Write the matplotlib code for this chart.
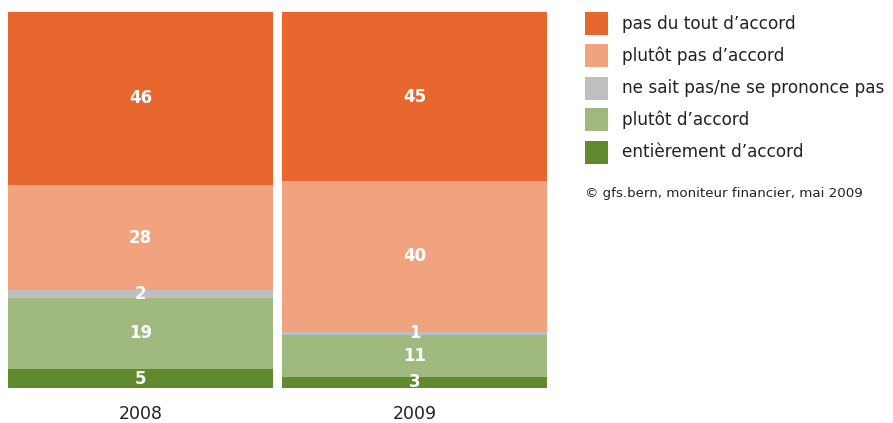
import matplotlib
matplotlib.use('Agg')
from matplotlib import pyplot as plt
from matplotlib.patches import Rectangle
import numpy as np

years = ['2008', '2009']
categories = ['entièrement d\u2019accord', 'plutôt d\u2019accord', 'ne sait pas/ne se prononce pas',
              'plutôt pas d\u2019accord', 'pas du tout d\u2019accord']
values = {
    'entièrement d\u2019accord': [5, 3],
    'plutôt d\u2019accord': [19, 11],
    'ne sait pas/ne se prononce pas': [2, 1],
    'plutôt pas d\u2019accord': [28, 40],
    'pas du tout d\u2019accord': [46, 45],
}
colors = ['#5F8A2E', '#A0B97F', '#BFBFBF', '#F1A380', '#E8672E']
source = '© gfs.bern, moniteur financier, mai 2009'

plt.rcParams['font.family'] = ['DejaVu Sans']

W, H = 893, 423
fig = plt.figure(figsize=(W/100, H/100), dpi=100)
ax = fig.add_axes([8/W, 1-388/H, (547-8)/W, (388-12)/H])

x = np.arange(len(years))
bw = 265/274
bottom = np.zeros(len(years))
for cat, col in zip(categories, colors):
    v = np.array(values[cat], dtype=float)
    ax.bar(x, v, bw, bottom=bottom, color=col, linewidth=0)
    for xi, vi, bi in zip(x, v, bottom):
        ax.text(xi, bi + vi/2, str(int(vi)), ha='center', va='center',
                color='white', fontsize=12, fontweight='bold')
    bottom += v

ax.set_xlim(-bw/2, 1 + bw/2)
ax.set_ylim(0, 100)
ax.axis('off')

for xi, yr in zip(x, years):
    ax.text(xi, -6.9, yr, ha='center', va='center', fontsize=12.5, color='#222222')

# legend drawn by hand, top entry first
for i, (cat, col) in enumerate(zip(categories[::-1], colors[::-1])):
    yc = 24 + i*32
    fig.patches.append(Rectangle((585/W, 1-(yc+11.5)/H), 23/W, 23/H,
                                 transform=fig.transFigure, color=col, linewidth=0))
    fig.text(622/W, 1-yc/H, cat, ha='left', va='center', fontsize=12.2, color='#222222')

fig.text(585/W, 1-193/H, source, ha='left', va='center', fontsize=9.6, color='#222222')

fig.savefig('out.png', dpi=100)
